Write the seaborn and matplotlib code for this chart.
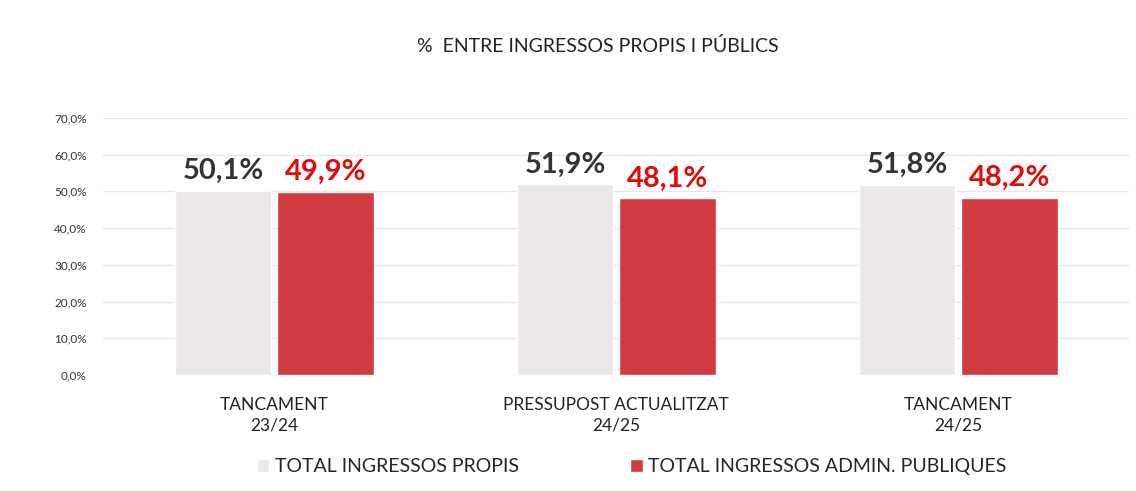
import pandas as pd
import seaborn as sns
import matplotlib.pyplot as plt
from matplotlib.ticker import FuncFormatter, MultipleLocator

# Dades
categories = ["TANCAMENT\n23/24", "PRESSUPOST ACTUALITZAT\n24/25", "TANCAMENT\n24/25"]
propis = [50.1, 51.9, 51.8]
publics = [49.9, 48.1, 48.2]
series = ["TOTAL INGRESSOS PROPIS", "TOTAL INGRESSOS ADMIN. PUBLIQUES"]

df = pd.DataFrame({
    "Etapa": categories * 2,
    "Serie": [series[0]] * 3 + [series[1]] * 3,
    "Valor": propis + publics,
})

sns.set_style("white")
plt.rcParams["font.family"] = ["Lato", "DejaVu Sans"]

colors = {series[0]: "#ECE7EB", series[1]: "#D13A40"}
label_colors = {series[0]: "#333333", series[1]: "#E30A0A"}

fig = plt.figure(figsize=(11.36, 4.91), dpi=100)
ax = fig.add_axes([0.091, 0.236, 0.903, 0.524])

sns.barplot(data=df, x="Etapa", y="Valor", hue="Serie", palette=colors,
            width=0.6, gap=0.06, saturation=1, ax=ax, legend=True)

ax.set_ylim(0, 70)
ax.set_xlim(-0.5, 2.5)
ax.yaxis.set_major_locator(MultipleLocator(10))
ax.yaxis.set_major_formatter(FuncFormatter(lambda v, p: f"{v:.1f}%".replace(".", ",")))
ax.grid(axis="y", color="#E6E6E6", linewidth=1)
ax.set_axisbelow(True)
for s in ax.spines.values():
    s.set_visible(False)
ax.tick_params(axis="y", labelsize=8.5, colors="#333333", length=0, pad=12)
ax.tick_params(axis="x", labelsize=12.5, colors="#222222", length=0, pad=16)
for t in ax.get_xticklabels():
    t.set_linespacing(1.3)
ax.set_xlabel("")
ax.set_ylabel("")

# Etiquetes de dades
for cont, name in zip(ax.containers, series):
    ax.bar_label(cont, labels=[f"{b.get_height():.1f}%".replace(".", ",") for b in cont],
                 padding=5, fontsize=21, fontweight="bold", color=label_colors[name])

fig.suptitle("%  ENTRE INGRESSOS PROPIS I PÚBLICS", x=0.526, y=0.925, fontsize=14, color="#222222")

handles, labels = ax.get_legend_handles_labels()
ax.legend(handles, labels, loc="center", bbox_to_anchor=(0.515, -0.355), ncol=2,
          frameon=False, fontsize=14, handlelength=0.65, handleheight=0.65,
          handletextpad=0.3, columnspacing=5.7)

fig.savefig("out.png", dpi=100)
